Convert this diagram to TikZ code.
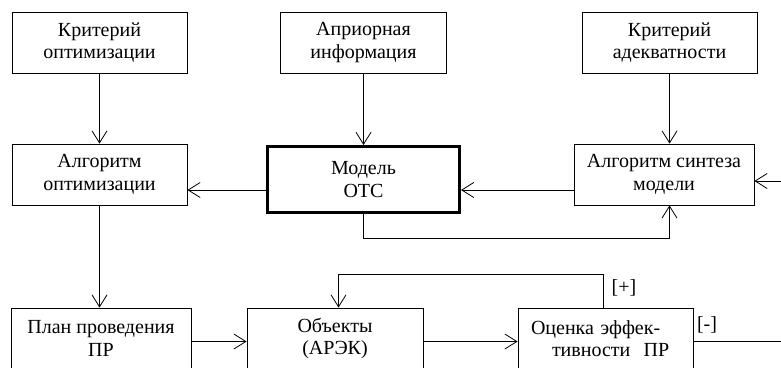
\documentclass[tikz,border=0pt]{standalone}
\usepackage{fontspec}
\setmainfont{Liberation Serif}
\usepackage{tikz}
\usetikzlibrary{calc,positioning,arrows.meta}

\begin{document}
\begin{tikzpicture}[x=1pt,y=-1pt,
  box/.style={draw, line width=0.8pt, rectangle, minimum width=175pt, minimum height=61pt, align=center, inner sep=0pt},
  arr/.style={line width=0.8pt, -{Straight Barb[length=12pt,width=15pt,line width=0.8pt]}},
  lnk/.style={line width=0.8pt},
  every node/.style={font=\fontsize{20pt}{22.5pt}\selectfont}]
  \useasboundingbox (0,0) rectangle (781,367);
  \clip (0,0) rectangle (781,367);

  % top row
  \node[box] (critopt) at (99.5,42.5) {Критерий\\оптимизации};
  \node[box, minimum width=166pt] (apriori) at (363.5,42.5) {Априорная\\информация};
  \node[box] (critadeq) at (669.5,42.5) {Критерий\\адекватности};

  % middle row
  \node[box] (algopt) at (99.5,174.5) {Алгоритм\\оптимизации};
  \node[box, line width=3pt, minimum width=192pt, minimum height=66pt] (model) at (363.5,179.5) {Модель\\ОТС};
  \node[box, minimum width=180pt] (algsyn) at (664,174.5) {Алгоритм синтеза\\модели};

  % bottom row
  \node[box, minimum width=180pt] (plan) at (101,338.5) {План проведения\\ПР};
  \node[box, minimum width=176pt] (objects) at (335,338.5) {Объекты\\(АРЭК)};
  \node[box, align=left, text width=149pt, inner xsep=13pt] (estim) at (605.5,338.5) {Оценка эффек-\\\hspace*{21pt}тивности~~ПР};

  % labels
  \node (plus) at (624,288) {[+]};
  \node (minus) at (707,325) {[-]};

  % helper points
  \coordinate (mid) at (0,190);
  \coordinate (low) at (0,341.5);
  \coordinate (inR) at (781,181);
  \coordinate (outR) at (781,341.5);
  \coordinate (fb) at (338.5,0);

  % connectors
  \draw[arr] (critopt) -- (algopt);
  \draw[arr] (apriori) -- (model);
  \draw[arr] (critadeq.south) -- (critadeq.south |- algsyn.north);
  \draw[arr] (model.west |- mid) -- (algopt.east |- mid);
  \draw[arr] (algsyn.west |- mid) -- (model.east |- mid);
  \draw[arr] (inR) -- (inR -| algsyn.east);
  \draw[arr] (model.south) -- ++(0,24) -| (critadeq.south |- algsyn.south);
  \draw[arr] (algopt.south) -- (algopt.south |- plan.north);
  \draw[arr] (plan.east |- low) -- (objects.west |- low);
  \draw[arr] (objects.east |- low) -- (estim.west |- low);
  \draw[arr] ([xshift=-2.5pt]estim.north) -- ++(0,-33) -| (fb |- objects.north);
  \draw[lnk] (estim.east |- outR) -- (outR);
\end{tikzpicture}
\end{document}
